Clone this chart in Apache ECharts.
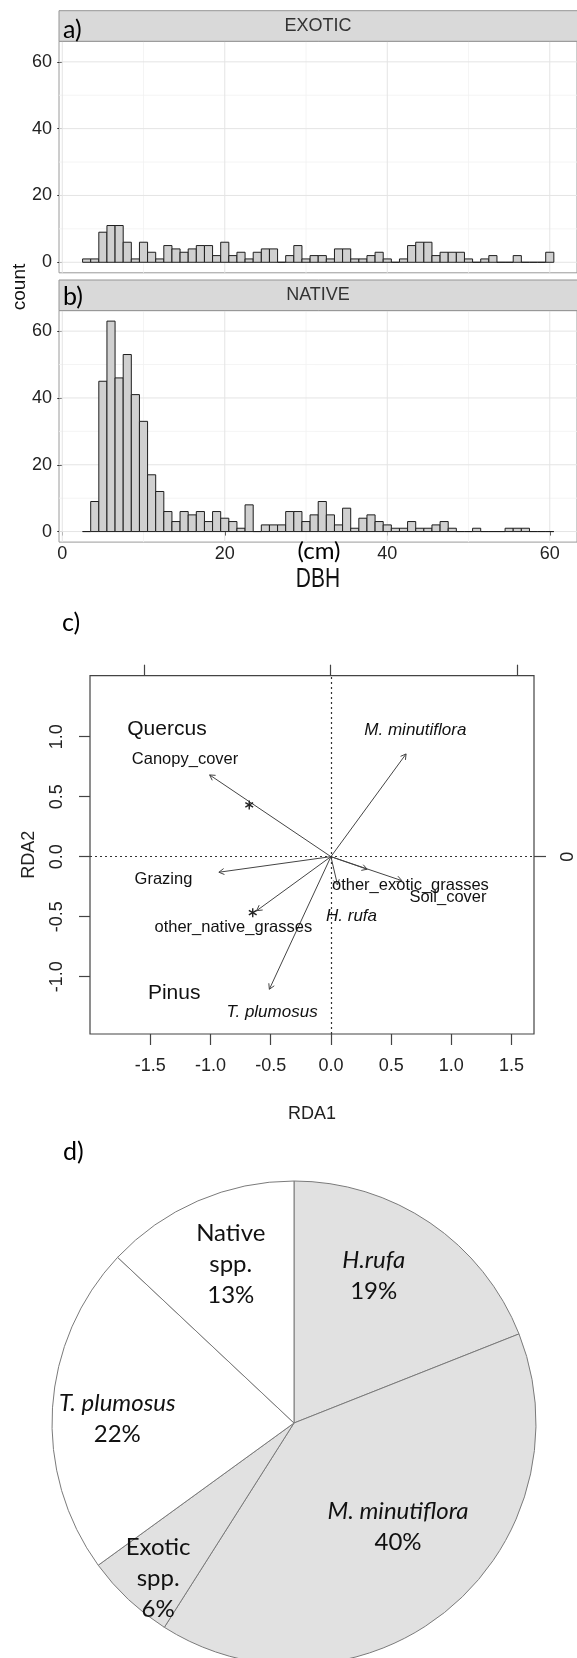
<!DOCTYPE html>
<html>
<head>
<meta charset="utf-8">
<script src="https://cdn.jsdelivr.net/npm/echarts@6/dist/echarts.min.js"></script>
<style>
html, body { margin: 0; padding: 0; background: #fff; }
#main { width: 577px; height: 1658px; }
</style>
</head>
<body>
<div id="main"></div>
<script>
// ---- a/b) DBH histograms, 1 cm bins ----
var binCentre = [3, 4, 5, 6, 7, 8, 9, 10, 11, 12, 13, 14, 15, 16, 17, 18, 19, 20, 21, 22,
    23, 24, 25, 26, 27, 28, 29, 30, 31, 32, 33, 34, 35, 36, 37, 38, 39, 40, 41, 42,
    43, 44, 45, 46, 47, 48, 49, 50, 51, 52, 53, 54, 55, 56, 57, 58, 59, 60]
var exoticCount = [1, 1, 9, 11, 11, 6, 1, 6, 3, 1, 5, 4, 3, 4, 5, 5, 2, 6, 2, 3,
    1, 3, 4, 4, 0, 2, 5, 1, 2, 2, 1, 4, 4, 1, 1, 2, 3, 1, 0, 1,
    5, 6, 6, 2, 3, 3, 3, 1, 0, 1, 2, 0, 0, 2, 0, 0, 0, 3]
var nativeCount = [0, 9, 45, 63, 46, 53, 41, 33, 17, 12, 6, 3, 6, 5, 6, 3, 6, 4, 3, 1,
    8, 0, 2, 2, 2, 6, 6, 3, 5, 9, 5, 2, 7, 1, 4, 5, 3, 2, 1, 1,
    3, 1, 1, 2, 3, 1, 0, 0, 1, 0, 0, 0, 1, 1, 1, 0, 0, 0]
var histTicks = [0, 20, 40, 60]
var gridMajor = [0, 20, 40, 60]
var gridMinor = [10, 30, 50]

// ---- c) RDA biplot ----
var rdaTicksX = [-1.5, -1, -0.5, 0, 0.5, 1, 1.5]
var rdaTicksY = [-1, -0.5, 0, 0.5, 1]
var arrowName = ['Canopy_cover', 'Grazing', 'other_native_grasses', 'T. plumosus',
    'M. minutiflora', 'other_exotic_grasses', 'Soil_cover', 'H. rufa']
var arrowX = [-1.007, -0.930, -0.616, -0.511, 0.624, 0.301, 0.589, 0.055]
var arrowY = [0.681, -0.130, -0.450, -1.105, 0.856, -0.105, -0.200, -0.236]
var labelText = ['Quercus', 'Pinus', 'Canopy_cover', 'Grazing', 'other_native_grasses',
    'other_exotic_grasses', 'Soil_cover', 'M. minutiflora', 'T. plumosus', 'H. rufa']
var labelKind = ['site', 'site', 'env', 'env', 'env', 'env', 'env', 'sp', 'sp', 'sp']
var labelX = [-1.361, -1.301, -1.211, -1.390, -0.810, 0.660, 0.972, 0.701, -0.488, 0.171]
var labelY = [1.060, -1.138, 0.806, -0.194, -0.590, -0.244, -0.344, 1.052, -1.301, -0.493]
var starX = [-0.678, -0.649]
var starY = [0.431, -0.467]

// ---- d) cover pie ----
var pieName = ['H.rufa', 'M. minutiflora', 'Exotic spp.', 'T. plumosus', 'Native spp.']
var pieValue = [19, 40, 6, 22, 13]
var pieGroup = ['exotic', 'exotic', 'exotic', 'native', 'native']
var pieItalic = [true, true, false, true, false]

var FONT = '"Liberation Sans", Arial, sans-serif'
var CAL = 'Lato, "Open Sans", sans-serif'

var chart = echarts.init(document.getElementById('main'))

function gridLineData() {
    var d = []
    gridMinor.forEach(function (v) { d.push([v, 0, 0]); d.push([v, 1, 0]) })
    gridMajor.forEach(function (v) { d.push([v, 0, 1]); d.push([v, 1, 1]) })
    return d
}

function renderGridLine(params, api) {
    var cs = params.coordSys
    var v = api.value(0)
    var major = api.value(2) === 1
    var st = { stroke: major ? '#e4e4e4' : '#f1f1f1', lineWidth: major ? 1 : 0.8 }
    if (api.value(1) === 1) {
        var y = api.coord([0, v])[1]
        return { type: 'line', shape: { x1: cs.x, y1: y, x2: cs.x + cs.width, y2: y }, style: st }
    }
    var x = api.coord([v, 0])[0]
    return { type: 'line', shape: { x1: x, y1: cs.y, x2: x, y2: cs.y + cs.height }, style: st }
}

function renderBar(params, api) {
    var c = api.value(0), n = api.value(1)
    var p0 = api.coord([c - 0.5, n])
    var p1 = api.coord([c + 0.5, 0])
    return {
        type: 'rect',
        shape: { x: p0[0], y: p0[1], width: p1[0] - p0[0], height: p1[1] - p0[1] },
        style: { fill: '#d0d0d0', stroke: '#1e1e1e', lineWidth: 1 }
    }
}

function renderArrow(params, api) {
    var o = api.coord([0, 0])
    var t = api.coord([api.value(0), api.value(1)])
    var a = Math.atan2(t[1] - o[1], t[0] - o[0])
    var L = 6, h = Math.PI / 6
    var pts = [
        [t[0] - L * Math.cos(a - h), t[1] - L * Math.sin(a - h)],
        [t[0], t[1]],
        [t[0] - L * Math.cos(a + h), t[1] - L * Math.sin(a + h)]
    ]
    return {
        type: 'group',
        children: [
            { type: 'line', shape: { x1: o[0], y1: o[1], x2: t[0], y2: t[1] }, style: { stroke: '#444', lineWidth: 1 } },
            { type: 'polyline', shape: { points: pts }, style: { stroke: '#444', lineWidth: 1, fill: null } }
        ]
    }
}

function renderStar(params, api) {
    var p = api.coord([api.value(0), api.value(1)])
    var r = 4.5, kids = []
    for (var k = 0; k < 3; k++) {
        var ang = Math.PI / 2 + k * Math.PI / 3
        kids.push({ type: 'line', shape: { x1: p[0] - r * Math.cos(ang), y1: p[1] - r * Math.sin(ang), x2: p[0] + r * Math.cos(ang), y2: p[1] + r * Math.sin(ang) },
            style: { stroke: '#222', lineWidth: 1.4 } })
    }
    return { type: 'group', children: kids }
}

var labelFont = {
    site: '21px ' + FONT,
    env: '16.5px ' + FONT,
    sp: 'italic 17px ' + FONT
}

function renderLabel(params, api) {
    var i = params.dataIndex
    var p = api.coord([api.value(0), api.value(1)])
    return {
        type: 'text', x: p[0], y: p[1],
        style: { text: labelText[i], font: labelFont[labelKind[i]], fill: '#111', align: 'center', verticalAlign: 'middle' }
    }
}

var histY = function (gi) {
    return {
        gridIndex: gi, type: 'value', min: -3.15, max: 66.15,
        splitLine: { show: false }, axisLine: { show: false },
        axisTick: { show: true, customValues: histTicks, length: 5, lineStyle: { color: '#333' } },
        axisLabel: { customValues: histTicks, fontSize: 18, color: '#222', margin: 7, fontFamily: FONT }
    }
}

var pieColour = { exotic: '#e1e1e1', native: '#ffffff' }
var pieLabelDx = [10, 25, -51, -53, -14]
var pieLabelDy = [-45, 8, 65, 4, -45]

var option = {
    animation: false,
    textStyle: { fontFamily: FONT },
    grid: [
        { left: 59, top: 41.3, width: 518, height: 231.5, show: true, borderColor: '#9a9a9a', borderWidth: 1, backgroundColor: '#fff' },
        { left: 59, top: 310.6, width: 518, height: 231.5, show: true, borderColor: '#9a9a9a', borderWidth: 1, backgroundColor: '#fff' },
        { left: 90, top: 675.7, width: 449, height: 358.3, show: true, borderColor: '#444', borderWidth: 1.2 }
    ],
    xAxis: [
        { gridIndex: 0, type: 'value', min: -0.4, max: 63.35, splitLine: { show: false },
            axisLine: { show: false }, axisTick: { show: false }, axisLabel: { show: false } },
        { gridIndex: 1, type: 'value', min: -0.4, max: 63.35, splitLine: { show: false },
            axisLine: { show: false },
            axisTick: { show: true, customValues: histTicks, length: 4, lineStyle: { color: '#333' } },
            axisLabel: { customValues: histTicks, fontSize: 18, color: '#222', margin: 3, fontFamily: FONT } },
        { gridIndex: 2, type: 'value', position: 'bottom', min: -2.0, max: 1.686,
            splitLine: { show: false }, axisLine: { show: false, onZero: false },
            axisTick: { show: true, customValues: rdaTicksX, length: 11, lineStyle: { color: '#444', width: 1.2 } },
            axisLabel: { customValues: rdaTicksX, fontSize: 18, color: '#222', margin: 23,
                formatter: function (v) { return v.toFixed(1) } },
            name: 'RDA1', nameLocation: 'middle', nameGap: 71, nameTextStyle: { fontSize: 18, color: '#222' } },
        { gridIndex: 2, type: 'value', position: 'top', min: -1.2914, max: 1.092,
            splitLine: { show: false }, axisLine: { show: false, onZero: false },
            axisTick: { show: true, customValues: [-1, 0, 1], length: 11, lineStyle: { color: '#444', width: 1.2 } },
            axisLabel: { show: false } }
    ],
    yAxis: [
        histY(0),
        histY(1),
        { gridIndex: 2, type: 'value', position: 'left', min: -1.478, max: 1.508,
            splitLine: { show: false }, axisLine: { show: false, onZero: false },
            axisTick: { show: true, customValues: rdaTicksY, length: 11, lineStyle: { color: '#444', width: 1.2 } },
            axisLabel: { customValues: rdaTicksY, fontSize: 18, color: '#222', margin: 24, rotate: 90,
                formatter: function (v) { return v.toFixed(1) } },
            name: 'RDA2', nameLocation: 'middle', nameRotate: 90, nameGap: 52, nameTextStyle: { fontSize: 18, color: '#222' } },
        { gridIndex: 2, type: 'value', position: 'right', min: -1.478, max: 1.508,
            splitLine: { show: false }, axisLine: { show: false, onZero: false },
            axisTick: { show: true, customValues: [0], length: 12, lineStyle: { color: '#444', width: 1.2 } },
            axisLabel: { customValues: [0], fontSize: 18, color: '#222', margin: 25, rotate: 90 } }
    ],
    graphic: [
        { type: 'rect', shape: { x: 59, y: 10.7, width: 530, height: 30.6 }, style: { fill: '#d9d9d9', stroke: '#959595', lineWidth: 1 }, z: 100 },
        { type: 'rect', shape: { x: 59, y: 280, width: 530, height: 30.6 }, style: { fill: '#d9d9d9', stroke: '#959595', lineWidth: 1 }, z: 100 },
        { type: 'text', x: 318, y: 26, z: 101, style: { text: 'EXOTIC', font: '18px ' + FONT, fill: '#333', align: 'center', verticalAlign: 'middle' } },
        { type: 'text', x: 318, y: 295.3, z: 101, style: { text: 'NATIVE', font: '18px ' + FONT, fill: '#333', align: 'center', verticalAlign: 'middle' } },
        { type: 'text', x: 63, y: 30, z: 101, style: { text: 'a)', font: '25px ' + CAL, fill: '#000', verticalAlign: 'middle' } },
        { type: 'text', x: 63, y: 297, z: 101, style: { text: 'b)', font: '25px ' + CAL, fill: '#000', verticalAlign: 'middle' } },
        { type: 'text', x: 20, y: 287, rotation: Math.PI / 2, z: 101, style: { text: 'count', font: '19px ' + FONT, fill: '#111', align: 'center', verticalAlign: 'middle' } },
        { type: 'text', x: 319, y: 551.5, z: 101, style: { text: '(cm)', font: '24px ' + CAL, fill: '#000', align: 'center', verticalAlign: 'middle' } },
        { type: 'text', x: 318, y: 579, scaleY: 1.35, z: 101, style: { text: 'DBH', font: '21px ' + FONT, fill: '#111', align: 'center', verticalAlign: 'middle' } },
        { type: 'text', x: 62, y: 623, z: 101, style: { text: 'c)', font: '25px ' + CAL, fill: '#000', verticalAlign: 'middle' } },
        { type: 'text', x: 63, y: 1151.5, z: 101, style: { text: 'd)', font: '25px ' + CAL, fill: '#000', verticalAlign: 'middle' } }
    ],
    series: [
        { type: 'custom', xAxisIndex: 0, yAxisIndex: 0, z: 1, silent: true, renderItem: renderGridLine, data: gridLineData() },
        { type: 'custom', xAxisIndex: 1, yAxisIndex: 1, z: 1, silent: true, renderItem: renderGridLine, data: gridLineData() },
        { type: 'custom', name: 'EXOTIC', xAxisIndex: 0, yAxisIndex: 0, z: 2, renderItem: renderBar,
            data: binCentre.map(function (c, i) { return [c, exoticCount[i]] }) },
        { type: 'custom', name: 'NATIVE', xAxisIndex: 1, yAxisIndex: 1, z: 2, renderItem: renderBar,
            data: binCentre.map(function (c, i) { return [c, nativeCount[i]] }) },
        { type: 'line', xAxisIndex: 2, yAxisIndex: 2, data: [], silent: true,
            markLine: { silent: true, symbol: 'none', label: { show: false },
                lineStyle: { type: [2, 3], color: '#333', width: 1.2 },
                data: [{ xAxis: 0 }, { yAxis: 0 }] } },
        { type: 'custom', name: 'arrows', xAxisIndex: 2, yAxisIndex: 2, z: 3, renderItem: renderArrow,
            data: arrowX.map(function (x, i) { return [x, arrowY[i]] }) },
        { type: 'custom', name: 'stars', xAxisIndex: 2, yAxisIndex: 2, z: 4, renderItem: renderStar,
            data: starX.map(function (x, i) { return [x, starY[i]] }) },
        { type: 'custom', name: 'labels', xAxisIndex: 2, yAxisIndex: 2, z: 5, renderItem: renderLabel,
            data: labelX.map(function (x, i) { return [x, labelY[i]] }) },
        {
            type: 'pie', center: [294, 1423], radius: 242, startAngle: 90, clockwise: true,
            avoidLabelOverlap: false, silent: true,
            itemStyle: { borderColor: '#7a7a7a', borderWidth: 1 },
            label: {
                show: true, position: 'inside', color: '#111', fontFamily: CAL, fontSize: 24, lineHeight: 31,
                formatter: function (p) {
                    var i = p.dataIndex
                    if (pieItalic[i]) return '{i|' + p.name + '}\n{n|' + p.value + '%}'
                    return '{n|' + p.name.split(' ').join('\n') + '\n' + p.value + '%}'
                },
                rich: {
                    i: { fontStyle: 'italic', fontFamily: CAL, fontSize: 24, lineHeight: 31, color: '#111' },
                    n: { fontFamily: CAL, fontSize: 24, lineHeight: 31, color: '#111' }
                }
            },
            labelLine: { show: false },
            labelLayout: function (p) { return { dx: pieLabelDx[p.dataIndex], dy: pieLabelDy[p.dataIndex] } },
            data: pieName.map(function (n, i) {
                return { name: n, value: pieValue[i], itemStyle: { color: pieColour[pieGroup[i]] } }
            })
        }
    ]
}

chart.setOption(option)
</script>
</body>
</html>
